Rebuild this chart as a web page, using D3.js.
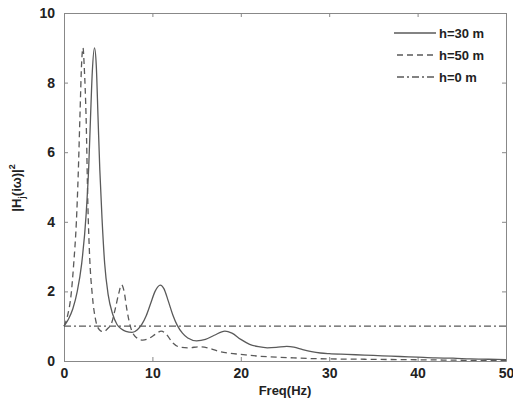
<!DOCTYPE html>
<html>
<head>
<meta charset="utf-8">
<script src="https://cdn.jsdelivr.net/npm/d3@7"></script>
<style>
  body { margin: 0; background: #fff; overflow: hidden; }
  svg { display: block; font-family: 'Liberation Sans', Arial, sans-serif; }
  .tick text { font-size: 14px; font-weight: bold; fill: #222; }
  .axis path, .axis line { stroke: #888; }
</style>
<script>
// frequency (Hz) / |H|^2 points
const h30 = [
  [0, 1], [0.5, 1.2], [1, 1.5], [1.5, 2.0], [2, 2.8], [2.5, 4.2], [2.8, 5.6],
  [3.0, 7.0], [3.2, 8.3], [3.45, 9.0], [3.65, 8.5], [3.85, 7.0], [4.05, 5.5],
  [4.3, 4.1], [4.6, 2.8], [5.0, 1.9], [5.5, 1.35], [6.0, 1.05], [6.5, 0.92],
  [7.0, 0.85], [7.7, 0.82], [8.3, 0.9], [8.8, 1.05], [9.3, 1.3], [9.8, 1.65],
  [10.3, 2.0], [10.9, 2.18], [11.3, 2.08], [11.8, 1.72], [12.3, 1.33],
  [12.8, 1.03], [13.4, 0.8], [14, 0.66], [15, 0.58], [16, 0.62], [17, 0.74],
  [18.2, 0.86], [19, 0.8], [20, 0.62], [21, 0.48], [22, 0.41], [23, 0.38],
  [24, 0.39], [25.2, 0.42], [26, 0.4], [27, 0.33], [28, 0.27], [29, 0.23],
  [30, 0.21], [32, 0.19], [34, 0.17], [36, 0.15], [38, 0.13], [40, 0.11],
  [42, 0.09], [44, 0.08], [46, 0.06], [48, 0.05], [50, 0.04]
]
const h50 = [
  [0, 1], [0.4, 1.3], [0.8, 1.9], [1.1, 2.8], [1.4, 4.0], [1.6, 5.3],
  [1.8, 7.0], [2.0, 8.6], [2.15, 9.0], [2.3, 8.4], [2.5, 7.0], [2.7, 4.5],
  [2.9, 3.0], [3.2, 1.9], [3.6, 1.15], [4.0, 0.9], [4.45, 0.84], [4.9, 0.92],
  [5.4, 1.1], [5.8, 1.5], [6.2, 1.95], [6.5, 2.19], [6.8, 2.0], [7.1, 1.5],
  [7.5, 1.0], [8.0, 0.72], [8.9, 0.6], [9.7, 0.66], [10.4, 0.78], [11, 0.86],
  [11.6, 0.76], [12.3, 0.52], [13.1, 0.4], [14, 0.38], [15.4, 0.41],
  [16.5, 0.36], [17.5, 0.28], [18.5, 0.23], [20, 0.19], [22, 0.14],
  [24, 0.11], [26, 0.09], [28, 0.07], [30, 0.06], [34, 0.05], [38, 0.04],
  [42, 0.03], [46, 0.02], [50, 0.02]
]
const h0 = [[0, 1], [50, 1]]

const xTicks = [0, 10, 20, 30, 40, 50]
const yTicks = [0, 2, 4, 6, 8, 10]
const legendLabels = ['h=30 m', 'h=50 m', 'h=0 m']

const render = () => {
  const svg = d3.select('svg')
  const margin = { top: 13, right: 7, bottom: 44, left: 64 }
  const width = +svg.attr('width')
  const height = +svg.attr('height')
  const innerWidth = width - margin.left - margin.right
  const innerHeight = height - margin.top - margin.bottom

  const g = svg.append('g')
    .attr('transform', `translate(${margin.left},${margin.top})`)

  const xScale = d3.scaleLinear().domain([0, 50]).range([0, innerWidth])
  const yScale = d3.scaleLinear().domain([0, 10]).range([innerHeight, 0])

  // axes, matlab style ticks pointing in
  const xAxis = g.append('g').attr('class', 'axis')
    .attr('transform', `translate(0,${innerHeight})`)
    .call(d3.axisBottom(xScale).tickValues(xTicks).tickSizeInner(-4).tickSizeOuter(0))
  xAxis.selectAll('.tick text').attr('y', 17).attr('dy', null)

  g.append('g').attr('class', 'axis')
    .call(d3.axisTop(xScale).tickValues(xTicks).tickSizeInner(-4).tickSizeOuter(0))
    .selectAll('.tick text').remove()

  g.append('g').attr('class', 'axis')
    .call(d3.axisLeft(yScale).tickValues(yTicks).tickSizeInner(-4).tickSizeOuter(0).tickPadding(9))

  g.append('g').attr('class', 'axis')
    .attr('transform', `translate(${innerWidth},0)`)
    .call(d3.axisRight(yScale).tickValues(yTicks).tickSizeInner(-4).tickSizeOuter(0))
    .selectAll('.tick text').remove()

  const line = d3.line()
    .x(d => xScale(d[0]))
    .y(d => yScale(d[1]))
    .curve(d3.curveMonotoneX)

  const series = [
    { data: h30, dash: null },
    { data: h50, dash: '6,4' },
    { data: h0, dash: '7,3,2,3' }
  ]

  g.selectAll('.series').data(series)
    .enter().append('path')
    .attr('class', 'series')
    .attr('d', d => line(d.data))
    .attr('fill', 'none')
    .attr('stroke', '#5a5a5a')
    .attr('stroke-width', 1.3)
    .attr('stroke-dasharray', d => d.dash)

  // legend
  const legend = g.selectAll('.legend').data(series)
    .enter().append('g')
    .attr('class', 'legend')
    .attr('transform', (d, i) => `translate(${330},${20 + i * 22})`)

  legend.append('line')
    .attr('x1', (d, i) => i === 0 ? 0 : 3)
    .attr('x2', 42)
    .attr('stroke', '#5a5a5a')
    .attr('stroke-width', 1.3)
    .attr('stroke-dasharray', d => d.dash)

  legend.append('text')
    .attr('x', 45)
    .attr('y', 5)
    .attr('font-size', 13)
    .attr('font-weight', 'bold')
    .attr('fill', '#222')
    .text((d, i) => legendLabels[i])

  // axis labels
  svg.append('text')
    .attr('x', margin.left + innerWidth / 2)
    .attr('y', 395)
    .attr('text-anchor', 'middle')
    .attr('font-size', 13)
    .attr('font-weight', 'bold')
    .attr('fill', '#222')
    .text('Freq(Hz)')

  const yLabel = svg.append('text')
    .attr('transform', 'translate(21,188) rotate(-90)')
    .attr('text-anchor', 'middle')
    .attr('font-size', 13)
    .attr('font-weight', 'bold')
    .attr('fill', '#222')
  yLabel.append('tspan').text('|H')
  yLabel.append('tspan').attr('font-size', 9).attr('dy', 4).text('j')
  yLabel.append('tspan').attr('dy', -4).text('(iω)|')
  yLabel.append('tspan').attr('font-size', 9).attr('dy', -6).text('2')
}

window.addEventListener('DOMContentLoaded', render)
</script>
</head>
<body>
<svg width="513" height="405"></svg>
</body>
</html>
